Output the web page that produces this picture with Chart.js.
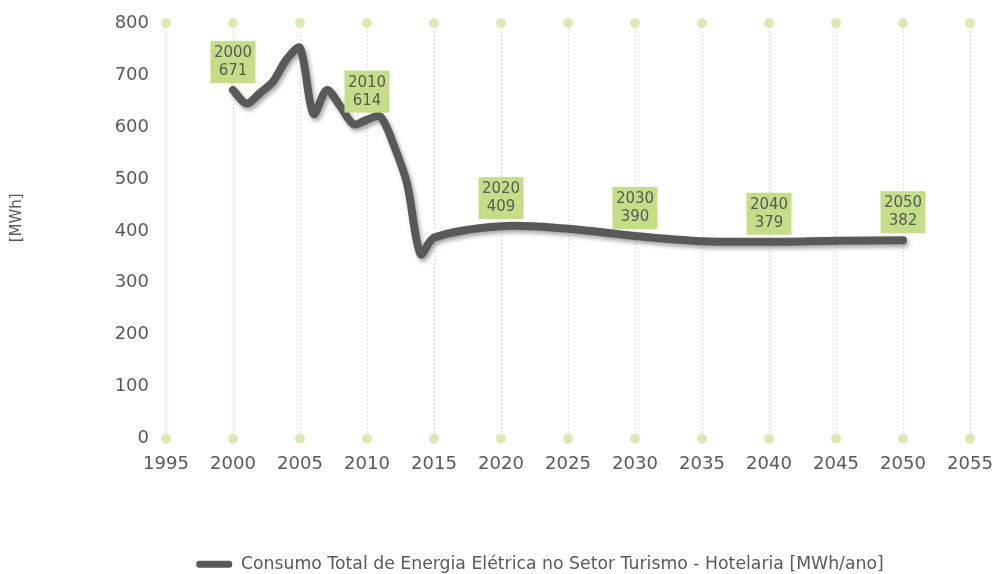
<!DOCTYPE html>
<html>
<head>
<meta charset="utf-8">
<script src="https://cdn.jsdelivr.net/npm/chart.js@4.4.1/dist/chart.umd.min.js"></script>
<style>
  html, body { margin: 0; padding: 0; background: #fff; }
  #wrap { width: 997px; height: 574px; }
</style>
</head>
<body>
<div id="wrap"><canvas id="myChart" width="997" height="574"></canvas></div>
<script>
const years = [2000, 2001, 2002, 2003, 2004, 2005, 2006, 2007, 2008, 2009, 2010, 2011, 2012, 2013, 2014, 2015, 2020, 2025, 2030, 2035, 2040, 2045, 2050];
const consumo = [671, 645, 665, 688, 730, 752, 625, 671, 640, 605, 614, 620, 565, 490, 355, 387, 409, 404, 390, 380, 379, 381, 382];
const labelYears = [2000, 2010, 2020, 2030, 2040, 2050];
const seriesName = 'Consumo Total de Energia Elétrica no Setor Turismo - Hotelaria [MWh/ano]';
const yTitle = '[MWh]';

const FONT = 'DejaVu Sans';
const TXT = '#595959';

// dots at the ends of each vertical grid line
const gridDots = {
  id: 'gridDots',
  beforeDatasetsDraw(chart) {
    const { ctx, chartArea, scales } = chart;
    ctx.save();
    ctx.fillStyle = '#d9eab4';
    scales.x.ticks.forEach(t => {
      const x = scales.x.getPixelForValue(t.value);
      [chartArea.top, chartArea.bottom].forEach(y => {
        ctx.beginPath();
        ctx.arc(x, y, 5, 0, Math.PI * 2);
        ctx.fill();
      });
    });
    // rotated axis title, sits a bit above centre like the original
    ctx.fillStyle = TXT;
    ctx.font = '15px ' + FONT;
    ctx.textAlign = 'center';
    ctx.textBaseline = 'middle';
    ctx.translate(17, (chartArea.top + chartArea.bottom) / 2 - 13);
    ctx.rotate(-Math.PI / 2);
    ctx.fillText(yTitle, 0, 0);
    ctx.restore();
  }
};

// soft drop shadow under the line
const lineShadow = {
  id: 'lineShadow',
  beforeDatasetDraw(chart) {
    const ctx = chart.ctx;
    ctx.save();
    ctx.shadowColor = 'rgba(0,0,0,0.35)';
    ctx.shadowBlur = 4;
    ctx.shadowOffsetX = 2;
    ctx.shadowOffsetY = 3;
  },
  afterDatasetDraw(chart) {
    chart.ctx.restore();
  }
};

// green boxes with "year / value"
const yearLabels = {
  id: 'yearLabels',
  afterDatasetsDraw(chart) {
    const { ctx, scales } = chart;
    ctx.save();
    ctx.font = '15px ' + FONT;
    ctx.textAlign = 'center';
    ctx.textBaseline = 'middle';
    labelYears.forEach(yr => {
      const i = years.indexOf(yr);
      const x = scales.x.getPixelForValue(yr);
      const y = scales.y.getPixelForValue(consumo[i]);
      const w = 45, h = 42;
      const bottom = y - 7;
      ctx.fillStyle = '#c3de86';
      ctx.fillRect(x - w / 2, bottom - h, w, h);
      ctx.fillStyle = TXT;
      ctx.fillText(String(yr), x, bottom - h + 12);
      ctx.fillText(String(consumo[i]), x, bottom - h + 30);
    });
    ctx.restore();
  }
};

let draw = () => {
  const ctx = document.getElementById('myChart');
  const dataset = {
    datasets: [{
      label: seriesName,
      data: years.map((y, i) => ({ x: y, y: consumo[i] })),
      showLine: true,
      borderColor: '#595959',
      backgroundColor: '#595959',
      borderWidth: 8,
      borderCapStyle: 'round',
      borderJoinStyle: 'round',
      pointRadius: 0,
      pointHoverRadius: 0,
      tension: 0.3
    }]
  };
  const config = {
    type: 'scatter',
    data: dataset,
    plugins: [gridDots, lineShadow, yearLabels],
    options: {
      responsive: false,
      animation: false,
      // left padding pushes the legend right, as in the original
      layout: { padding: { left: 110, right: 27, top: 23, bottom: -9 } },
      scales: {
        x: {
          type: 'linear',
          min: 1995,
          max: 2055,
          ticks: {
            stepSize: 5,
            color: TXT,
            font: { family: FONT, size: 18 },
            padding: 15,
            callback: v => String(v)
          },
          grid: { color: '#d9eab4', lineWidth: 1, drawTicks: false },
          border: { display: false, dash: [2, 2] },
          afterFit: s => {
            s.height = 115;
            s.paddingLeft = 0;
            s.paddingRight = 0;
          }
        },
        y: {
          min: 0,
          max: 800,
          ticks: {
            stepSize: 100,
            color: TXT,
            font: { family: FONT, size: 18 },
            padding: 17
          },
          grid: { display: false, drawTicks: false },
          border: { display: false },
          afterFit: s => {
            s.width = 56;
            s.paddingTop = 0;
            s.paddingBottom = 0;
          }
        }
      },
      plugins: {
        legend: {
          position: 'bottom',
          labels: {
            color: TXT,
            font: { family: FONT, size: 17.3 },
            boxWidth: 36,
            boxHeight: 7,
            padding: 2,
            useBorderRadius: true,
            borderRadius: 3,
            generateLabels: chart => [{
              text: seriesName,
              fillStyle: '#595959',
              strokeStyle: '#595959',
              lineWidth: 0,
              borderRadius: 3,
              fontColor: TXT,
              datasetIndex: 0
            }]
          }
        },
        tooltip: { enabled: false }
      }
    }
  };
  const chart = new Chart(ctx, config);
};

draw();
</script>
</body>
</html>
